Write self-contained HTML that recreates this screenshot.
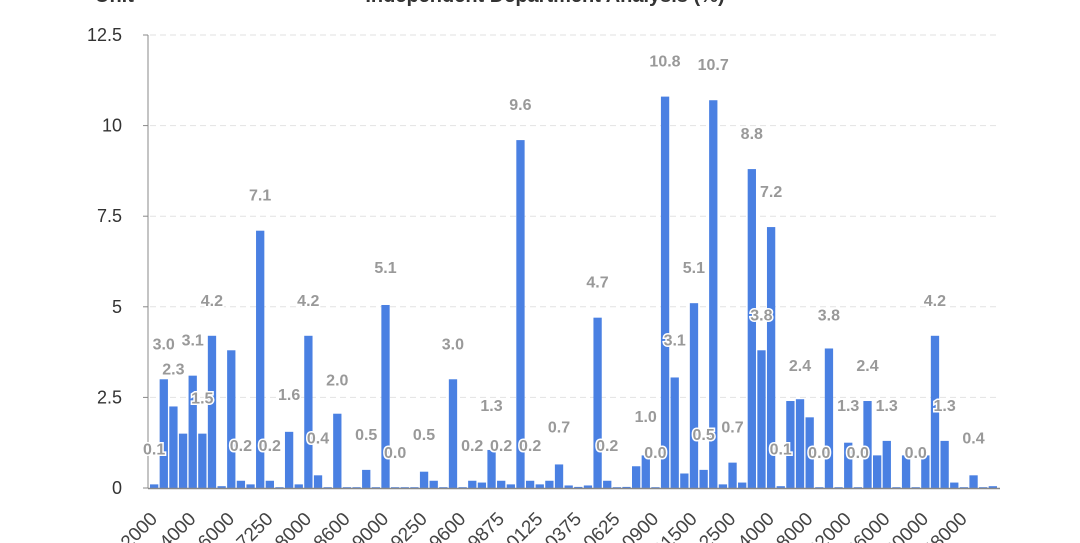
<!DOCTYPE html>
<html><head><meta charset="utf-8"><style>
html,body{margin:0;padding:0;background:#fff;width:1080px;height:543px;overflow:hidden}
svg{display:block;font-family:"Liberation Sans",sans-serif}
</style></head><body>
<svg id="c" width="1080" height="543" viewBox="0 0 1080 543" xmlns="http://www.w3.org/2000/svg">
<text x="95" y="2" font-size="20" font-weight="bold" fill="#333">Unit</text>
<text x="545" y="2" font-size="20" font-weight="bold" fill="#333" text-anchor="middle">Independent Department Analysis (%)</text>
</svg>
<script>
var s=document.getElementById('c'),h='';
var Y0=488,K=36.24,X0=149.3,P=9.64;
[2.5,5,7.5,10,12.5].forEach(function(v){var y=Y0-v*K;h+='<line x1="150" x2="1000" y1="'+y+'" y2="'+y+'" stroke="#e2e2e2" stroke-dasharray="6,4"/>';});
[0,2.5,5,7.5,10,12.5].forEach(function(v){var y=Y0-v*K;h+='<text x="122" y="'+(y+6)+'" font-size="18" fill="#333" text-anchor="end">'+(v==0?'0':v)+'</text><line x1="143" x2="148" y1="'+y+'" y2="'+y+'" stroke="#888"/>';});
var v=[0.1,3.0,2.25,1.5,3.1,1.5,4.2,0.05,3.8,0.2,0.1,7.1,0.2,0,1.55,0.1,4.2,0.35,0,2.05,0,0,0.5,0.02,5.05,0,0.02,0.02,0.45,0.2,0,3.0,0,0.2,0.15,1.05,0.2,0.1,9.6,0.2,0.1,0.2,0.65,0.07,
0.03,0.07,4.7,0.2,0.02,0.03,0.6,0.9,0.02,10.8,3.05,0.4,5.1,0.5,10.7,0.1,0.7,0.15,8.8,3.8,7.2,0.05,2.4,2.45,1.95,0.01,3.85,0,1.25,0,2.4,0.9,1.3,0,0.9,0,0.9,4.2,1.3,0.15,0,0.35,0,0.05];
var L={1:'0.1',2:'3.0',3:'2.3',5:'3.1',6:'1.5',7:'4.2',10:'0.2',12:'7.1',13:'0.2',15:'1.6',17:'4.2',18:'0.4',20:'2.0',23:'0.5',25:'5.1',26:'0.0',29:'0.5',32:'3.0',34:'0.2',36:'1.3',37:'0.2',39:'9.6',40:'0.2',43:'0.7',
47:'4.7',48:'0.2',52:'1.0',53:'0.0',54:'10.8',55:'3.1',57:'5.1',58:'0.5',59:'10.7',61:'0.7',63:'8.8',64:'3.8',65:'7.2',66:'0.1',68:'2.4',70:'0.0',71:'3.8',73:'1.3',74:'0.0',75:'2.4',77:'1.3',80:'0.0',82:'4.2',83:'1.3',86:'0.4'};
v.forEach(function(d,i){var x=X0+i*P+0.7,hh=Math.max(d*K,0.8);h+='<rect x="'+x.toFixed(2)+'" y="'+(Y0-hh).toFixed(2)+'" width="8.3" height="'+hh.toFixed(2)+'" fill="#4a80e2"/>';});
h+='<line x1="148" x2="148" y1="35" y2="488" stroke="#888"/><line x1="148" x2="1000" y1="488.5" y2="488.5" stroke="#888" stroke-width="1.5"/>';
for(var k in L){var i=k-1,cx=X0+i*P+4.8,y=Y0-parseFloat(L[k])*K-30;
h+='<text x="'+cx.toFixed(1)+'" y="'+y.toFixed(1)+'" font-size="16" font-weight="bold" fill="#999" stroke="#fff" stroke-width="3" paint-order="stroke" text-anchor="middle">'+L[k]+'</text>';}
var xl=['12000','14000','16000','17250','18000','18600','19000','19250','19600','19875','110125','110375','110625','110900','111500','112500','114000','118000','122000','126000','130000','148000'];
xl.forEach(function(t,j){var cx=X0+j*4*P+5;h+='<text transform="translate('+(cx+4)+',520) rotate(-45)" font-size="19" fill="#444" text-anchor="end">'+t+'</text>';});
s.insertAdjacentHTML('beforeend',h);
</script>
</body></html>
